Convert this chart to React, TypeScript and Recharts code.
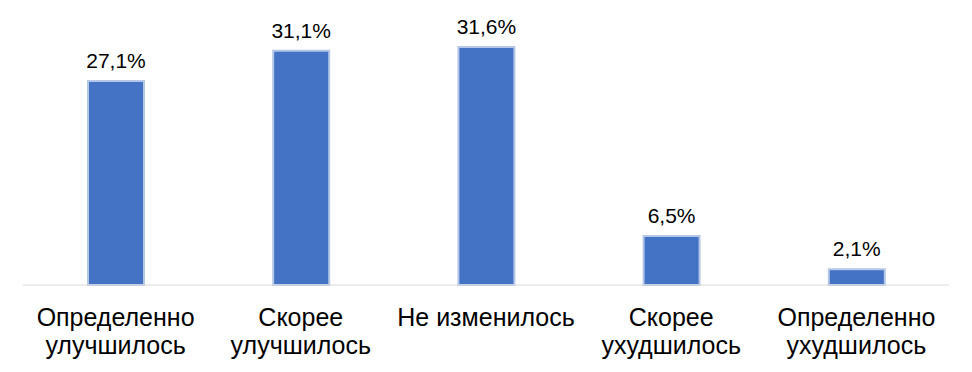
import { BarChart, Bar, XAxis, YAxis, LabelList } from "recharts";

const categories = [
  "Определенно\nулучшилось",
  "Скорее\nулучшилось",
  "Не изменилось",
  "Скорее\nухудшилось",
  "Определенно\nухудшилось",
];
const shares = [27.1, 31.1, 31.6, 6.5, 2.1];

const data = categories.map((name, i) => ({ name, value: shares[i] }));

const FONT = "'Liberation Sans', Arial, sans-serif";

function CategoryTick(props: any) {
  const { x, y, payload } = props;
  const lines = String(payload.value).split("\n");
  return (
    <text
      x={x}
      y={y}
      textAnchor="middle"
      fontFamily={FONT}
      fontSize={25}
      fill="#000"
    >
      {lines.map((line, i) => (
        <tspan key={i} x={x} dy={i === 0 ? 33 : 28}>
          {line}
        </tspan>
      ))}
    </text>
  );
}

export default function App() {
  return (
    <div style={{ position: "absolute", left: 0, top: 0, background: "#fff" }}>
      <BarChart
        width={972}
        height={372}
        data={data}
        margin={{ top: 21.5, right: 23, left: 23, bottom: 0 }}
        barCategoryGap={0}
      >
        <XAxis
          dataKey="name"
          axisLine={{ stroke: "#D9D9D9", strokeWidth: 1 }}
          tickLine={false}
          interval={0}
          height={87}
          tick={<CategoryTick />}
        />
        <YAxis hide domain={[0, 35]} />
        <Bar
          dataKey="value"
          fill="#4472C4"
          stroke="#B4C7E7"
          strokeWidth={2}
          barSize={56}
          isAnimationActive={false}
        >
          <LabelList
            dataKey="value"
            position="top"
            offset={13}
            formatter={(v: any) => `${String(v).replace(".", ",")}%`}
            style={{ fontFamily: FONT, fontSize: 21, fill: "#000" }}
          />
        </Bar>
      </BarChart>
    </div>
  );
}
